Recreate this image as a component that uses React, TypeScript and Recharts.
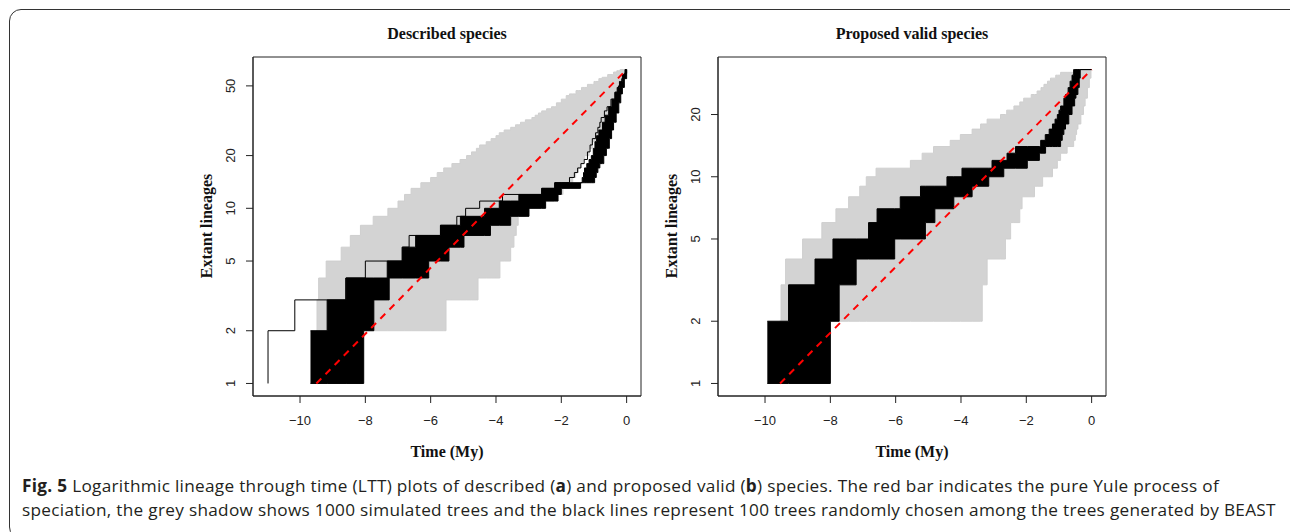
import React from 'react';
import { ComposedChart, Line, Area, XAxis, YAxis, ReferenceArea } from 'recharts';

// x axis (time in My) shared by both panels
const timeTicks = [-10, -8, -6, -4, -2, 0];
const timeDomain = [-11.44, 0.44];

// panel a: described species
const descTicks = [1, 2, 5, 10, 20, 50];
const descDomain = [0.848, 73.1];
const descGreyUpT = [-9.5, -9.48, -9.43, -9.2, -8.74, -8.46, -8.15, -7.76, -7.31, -7.0, -6.8, -6.6, -6.3, -6.0, -5.8, -5.6, -5.35, -5.1, -4.9, -4.75, -4.6, -4.5, -4.3, -4.15, -4.0, -3.9, -3.75, -3.55, -3.4, -3.25, -3.1, -2.9, -2.8, -2.7, -2.6, -2.45, -2.3, -2.15, -2.0, -1.85, -1.75, -1.55, -1.38, -1.2, -1.0, -0.85, -0.75, -0.58, -0.4, -0.3, -0.2];
const descGreyUpN = [2, 3, 4, 5, 6, 7, 8, 9, 10, 11, 12, 13, 14, 15, 16, 17, 18, 19, 20, 21, 22, 23, 24, 25, 26, 27, 28, 29, 30, 31, 32, 33, 34, 35, 36, 37, 38, 40, 42, 44, 45, 47, 49, 51, 53, 55, 56, 58, 60, 61, 62];
const descGreyLoT = [-9.5, -5.53, -4.55, -3.88, -3.55, -3.45, -3.38, -3.32, -3.1, -2.6, -2.2, -1.95, -1.75, -1.65, -1.56, -1.48, -1.4, -1.34, -1.28, -1.15, -1.05, -0.95, -0.85, -0.7, -0.58, -0.44, -0.36, -0.3, -0.24, -0.18, -0.1, 0];
const descGreyLoN = [2, 3, 4, 5, 6, 7, 8, 9, 10, 11, 12, 13, 14, 15, 16, 17, 18, 19, 20, 22, 24, 26, 28, 31, 34, 38, 42, 45, 49, 53, 58, 62];
const descBlackUpT = [-9.68, -9.17, -8.59, -7.33, -6.87, -6.46, -5.7, -5.09, -4.35, -3.9, -3.3, -2.6, -2.2, -1.36, -1.32, -1.29, -1.22, -1.15, -1.08, -1.02, -0.97, -0.92, -0.85, -0.74, -0.66, -0.55, -0.45, -0.36, -0.29, -0.22, -0.13, -0.05];
const descBlackUpN = [2, 3, 4, 5, 6, 7, 8, 9, 10, 11, 12, 13, 14, 15, 16, 17, 18, 19, 20, 22, 24, 26, 28, 31, 34, 38, 42, 46, 49, 53, 58, 62];
const descBlackLoT = [-9.68, -8.05, -7.74, -7.27, -6.06, -5.44, -4.98, -4.17, -3.55, -2.99, -2.48, -2.1, -2.0, -1.41, -0.98, -0.93, -0.88, -0.82, -0.7, -0.62, -0.53, -0.46, -0.4, -0.32, -0.24, -0.18, -0.13, -0.07, 0];
const descBlackLoN = [1, 2, 3, 4, 5, 6, 7, 8, 9, 10, 11, 12, 13, 14, 15, 16, 17, 18, 20, 22, 25, 28, 31, 35, 40, 45, 49, 55, 62];
const descOutT = [-10.98, -10.98, -10.16, -8.6, -8.0, -6.87, -6.66, -5.7, -5.2, -4.93, -4.5, -3.8, -2.6, -2.2, -1.75, -1.6, -1.5, -1.4, -1.3, -1.2, -1.12, -1.05, -0.95, -0.88, -0.82, -0.78, -0.68, -0.6, -0.48, -0.35, -0.25, -0.15, -0.07, 0];
const descOutN = [1, 2, 3, 4, 5, 6, 7, 8, 9, 10, 11, 12, 13, 14, 15, 16, 17, 18, 19, 21, 23, 25, 27, 29, 31, 33, 36, 38, 42, 46, 50, 55, 59, 62];
const descYuleT = [-9.5, 0];
const descYuleN = [1, 62];

// panel b: proposed valid species
const validTicks = [1, 2, 5, 10, 20];
const validDomain = [0.8696, 37.96];
const validGreyUpT = [-9.55, -9.51, -9.37, -8.85, -8.26, -7.83, -7.44, -7.1, -6.9, -6.6, -5.55, -5.19, -4.84, -4.33, -4.02, -3.66, -3.4, -3.2, -2.79, -2.6, -2.38, -2.2, -2.08, -1.85, -1.67, -1.55, -1.46, -1.35, -1.26, -1.1, -0.95, -0.54];
const validGreyUpN = [2, 3, 4, 5, 6, 7, 8, 9, 10, 11, 12, 13, 14, 15, 16, 17, 18, 19, 20, 21, 22, 23, 24, 25, 26, 27, 28, 29, 30, 31, 32, 33];
const validGreyLoT = [-9.55, -3.35, -3.2, -2.64, -2.48, -2.2, -2.13, -1.75, -1.5, -1.2, -1.05, -0.95, -0.75, -0.55, -0.5, -0.46, -0.42, -0.33, -0.25, -0.2, -0.13, -0.07, -0.02];
const validGreyLoN = [2, 3, 4, 5, 6, 7, 8, 9, 10, 11, 12, 13, 14, 15, 16, 17, 18, 20, 22, 24, 27, 30, 33];
const validBlackUpT = [-9.93, -9.28, -8.47, -7.92, -6.83, -6.57, -5.86, -5.24, -4.43, -3.97, -3.05, -2.59, -2.33, -1.56, -1.42, -1.3, -1.2, -1.12, -1.05, -1.0, -0.95, -0.85, -0.8, -0.72, -0.66, -0.6, -0.55];
const validBlackUpN = [2, 3, 4, 5, 6, 7, 8, 9, 10, 11, 12, 13, 14, 15, 16, 17, 18, 19, 20, 21, 22, 24, 25, 27, 29, 31, 33];
const validBlackLoT = [-9.93, -8.0, -7.73, -7.21, -6.03, -5.09, -4.8, -4.22, -3.66, -3.15, -2.69, -1.97, -1.6, -1.41, -0.95, -0.9, -0.85, -0.8, -0.7, -0.6, -0.52, -0.48, -0.42, -0.38, -0.35];
const validBlackLoN = [1, 2, 3, 4, 5, 6, 7, 8, 9, 10, 11, 12, 13, 14, 15, 16, 17, 18, 20, 22, 24, 25, 27, 30, 33];
const validYuleT = [-9.54, 0];
const validYuleN = [1, 33];

const serif = '"Liberation Serif", "DejaVu Serif", serif';
const sans = '"Liberation Sans", Arial, sans-serif';

function stepAt(ts: number[], ns: number[], x: number) {
  let v = ns[0];
  for (let i = 0; i < ts.length; i++) if (ts[i] <= x) v = ns[i];
  return v;
}

// range table for a shaded band between the lower and upper step curves
function band(upT: number[], upN: number[], loT: number[], loN: number[]) {
  const xs = Array.from(new Set([...upT, ...loT, 0])).sort((a, b) => a - b);
  return xs.map((t) => ({ t, range: [stepAt(loT, loN, t), stepAt(upT, upN, t)] }));
}

function curve(ts: number[], ns: number[]) {
  return ts.map((t, i) => ({ t, n: ns[i] }));
}

const XTick = (props: any) => {
  const { x, y, payload } = props;
  const v = payload.value;
  const label = v < 0 ? '\u2212' + Math.abs(v) : String(v);
  return (
    <text x={x} y={y} dy="0.71em" textAnchor="middle" fontSize={13} fontFamily={sans} fill="#222">
      {label}
    </text>
  );
};

const YTick = (props: any) => {
  const { x, y, payload } = props;
  const bx = x - 9;
  return (
    <text x={bx} y={y} transform={`rotate(-90 ${bx} ${y})`} textAnchor="middle" fontSize={13} fontFamily={sans} fill="#222">
      {payload.value}
    </text>
  );
};

type PanelProps = {
  left: number;
  title: string;
  yDomain: number[];
  yTicks: number[];
  grey: any[];
  black: any[];
  outliers: any[][];
  yule: any[];
};

const labelStyle: React.CSSProperties = {
  position: 'absolute',
  width: 400,
  textAlign: 'center',
  fontFamily: serif,
  fontWeight: 'bold',
  fontSize: 16,
  lineHeight: '18px',
  color: '#111',
};

function Panel({ left, title, yDomain, yTicks, grey, black, outliers, yule }: PanelProps) {
  const plotLeft = left + 73;
  const plotW = 388;
  const cx = plotLeft + plotW / 2;
  return (
    <>
      <div style={{ ...labelStyle, left: cx - 200, top: 25 }}>{title}</div>
      <div style={{ ...labelStyle, left: cx - 200, top: 443 }}>Time (My)</div>
      <div style={{ ...labelStyle, left: plotLeft - 46 - 200, top: 226 - 9, transform: 'rotate(-90deg)' }}>Extant lineages</div>
      <div style={{ position: 'absolute', left, top: 20 }}>
        <ComposedChart width={480} height={450} margin={{ top: 37, right: 19, bottom: 34, left: 33 }}>
          <XAxis
            type="number"
            dataKey="t"
            domain={timeDomain}
            ticks={timeTicks}
            allowDataOverflow
            height={40}
            tickSize={7}
            tickMargin={13}
            tick={<XTick />}
            stroke="#222"
          />
          <YAxis
            type="number"
            scale="log"
            domain={yDomain}
            ticks={yTicks}
            allowDataOverflow
            width={40}
            tickSize={7}
            tickMargin={2}
            tick={<YTick />}
            stroke="#222"
          />
          <Area data={grey} dataKey="range" type="stepAfter" fill="#d3d3d3" fillOpacity={1} stroke="#cfcfcf" strokeWidth={1} isAnimationActive={false} dot={false} activeDot={false} />
          <Area data={black} dataKey="range" type="stepAfter" fill="#000" fillOpacity={1} stroke="#000" strokeWidth={1} isAnimationActive={false} dot={false} activeDot={false} />
          {outliers.map((o, i) => (
            <Line key={i} data={o} dataKey="n" type="stepAfter" stroke="#000" strokeWidth={1} dot={false} activeDot={false} isAnimationActive={false} />
          ))}
          <Line data={yule} dataKey="n" type="linear" stroke="#ff0000" strokeWidth={2} strokeDasharray="7 6" dot={false} activeDot={false} isAnimationActive={false} />
          <ReferenceArea x1={timeDomain[0]} x2={timeDomain[1]} y1={yDomain[0]} y2={yDomain[1]} fill="none" stroke="#222" strokeWidth={1} ifOverflow="visible" />
        </ComposedChart>
      </div>
    </>
  );
}

export default function App() {
  const captionStyle: React.CSSProperties = {
    position: 'absolute',
    left: 22,
    whiteSpace: 'nowrap',
    fontFamily: '"Open Sans", "Noto Sans", sans-serif',
    fontSize: 17.2,
    letterSpacing: 0.3,
    lineHeight: '24px',
    color: '#231f20',
  };
  return (
    <div style={{ position: 'absolute', left: 0, top: 0, width: 1290, height: 532, overflow: 'hidden', background: '#fff' }}>
      <div style={{ position: 'absolute', left: 9, top: 9, width: 1300, height: 530, border: '1.5px solid #333', borderRadius: 12, boxSizing: 'border-box' }} />
      <Panel
        left={180}
        title="Described species"
        yDomain={descDomain}
        yTicks={descTicks}
        grey={band(descGreyUpT, descGreyUpN, descGreyLoT, descGreyLoN)}
        black={band(descBlackUpT, descBlackUpN, descBlackLoT, descBlackLoN)}
        outliers={[curve(descOutT, descOutN)]}
        yule={curve(descYuleT, descYuleN)}
      />
      <Panel
        left={645}
        title="Proposed valid species"
        yDomain={validDomain}
        yTicks={validTicks}
        grey={band(validGreyUpT, validGreyUpN, validGreyLoT, validGreyLoN)}
        black={band(validBlackUpT, validBlackUpN, validBlackLoT, validBlackLoN)}
        outliers={[]}
        yule={curve(validYuleT, validYuleN)}
      />
      <div style={{ ...captionStyle, top: 474 }}>
        <b>Fig. 5</b> Logarithmic lineage through time (LTT) plots of described (<b>a</b>) and proposed valid (<b>b</b>) species. The red bar indicates the pure Yule process of
      </div>
      <div style={{ ...captionStyle, top: 498 }}>
        speciation, the grey shadow shows 1000 simulated trees and the black lines represent 100 trees randomly chosen among the trees generated by BEAST
      </div>
    </div>
  );
}
